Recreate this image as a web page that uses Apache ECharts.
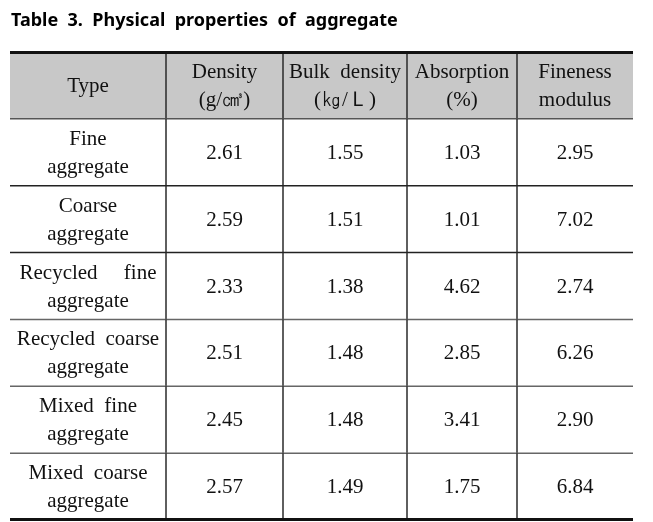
<!DOCTYPE html>
<html>
<head>
<meta charset="utf-8">
<script src="https://cdn.jsdelivr.net/npm/echarts@6/dist/echarts.min.js"></script>
<style>html,body{margin:0;padding:0;background:#fff}#c{width:653px;height:522px}</style>
</head>
<body>
<div id="c"></div>
<script>
// ---- data ----
const titleText = 'Table  3.  Physical  properties  of  aggregate';
const headers = ['Type', 'Density\n(g/㎤)', 'Bulk  density\n(㎏/Ｌ)', 'Absorption\n(%)', 'Fineness\nmodulus'];
const types = ['Fine\naggregate', 'Coarse\naggregate', 'Recycled     fine\naggregate', 'Recycled  coarse\naggregate', 'Mixed  fine\naggregate', 'Mixed  coarse\naggregate'];
const density = [2.61, 2.59, 2.33, 2.51, 2.45, 2.57];
const bulkDensity = [1.55, 1.51, 1.38, 1.48, 1.48, 1.49];
const absorption = [1.03, 1.01, 4.62, 2.85, 3.41, 1.75];
const finenessModulus = [2.95, 7.02, 2.74, 6.26, 2.90, 6.84];

// ---- layout (column boundaries in table units) ----
const colEdges = [0, 156, 273, 397, 507, 623];

const rowsLabels = ['header'].concat(types);
const valueCols = [density, bulkDensity, absorption, finenessModulus];
const cells = [];
for (let r = 0; r < rowsLabels.length; r++) {
  for (let c = 0; c < 5; c++) {
    let txt;
    if (r === 0) txt = headers[c];
    else if (c === 0) txt = types[r - 1];
    else txt = valueCols[c - 1][r - 1].toFixed(2);
    cells.push({ value: [colEdges[c], r, c], txt: txt });
  }
}

const chart = echarts.init(document.getElementById('c'), null, { renderer: 'canvas' });
const nRows = rowsLabels.length;

chart.setOption({
  animation: false,
  title: {
    text: titleText, left: 6, top: 7,
    textStyle: { fontFamily: 'Noto Sans', fontWeight: 'bold', fontSize: 18, color: '#000' }
  },
  grid: { left: 10, right: 20, top: 52, bottom: 2 },
  xAxis: { type: 'value', min: 0, max: colEdges[colEdges.length - 1], show: false },
  yAxis: { type: 'category', data: rowsLabels, inverse: true, show: false },
  series: [{
    type: 'custom',
    coordinateSystem: 'cartesian2d',
    data: cells,
    encode: { x: 0, y: 1 },
    renderItem: function (params, api) {
      const item = cells[params.dataIndex];
      const c = api.value(2);
      const r = api.value(1);
      const pA = api.coord([colEdges[c], r]);
      const pB = api.coord([colEdges[c + 1], r]);
      const h = api.size([0, 1])[1];
      const x0 = pA[0], x1 = pB[0];
      const y0 = pA[1] - h / 2, y1 = pA[1] + h / 2;
      const children = [{
        type: 'rect',
        shape: { x: x0, y: y0, width: x1 - x0, height: h },
        style: { fill: r === 0 ? '#c8c8c8' : '#ffffff' },
        z2: 0
      }];
      if (c < 4) {
        children.push({ type: 'line', shape: { x1: x1, y1: y0, x2: x1, y2: y1 },
          style: { stroke: '#2a2a2a', lineWidth: 1.5 }, z2: 2 });
      }
      if (r === 0) {
        children.push({ type: 'line', shape: { x1: x0, y1: y0 + 0.5, x2: x1, y2: y0 + 0.5 },
          style: { stroke: '#111', lineWidth: 3 }, z2: 3 });
      }
      if (r === nRows - 1) {
        children.push({ type: 'line', shape: { x1: x0, y1: y1 - 0.5, x2: x1, y2: y1 - 0.5 },
          style: { stroke: '#111', lineWidth: 3 }, z2: 3 });
      } else {
        const col = r === 0 ? '#555' : (r <= 2 ? '#222' : '#666');
        children.push({ type: 'line', shape: { x1: x0, y1: y1, x2: x1, y2: y1 },
          style: { stroke: col, lineWidth: 1.5 }, z2: 2 });
      }
      children.push({
        type: 'text',
        style: {
          text: item.txt, x: (x0 + x1) / 2, y: (y0 + y1) / 2 + 1,
          align: 'center', verticalAlign: 'middle',
          fontFamily: 'Liberation Serif', fontSize: 21, lineHeight: 28, fill: '#111'
        },
        z2: 4
      });
      return { type: 'group', children: children };
    }
  }]
});
</script>
</body>
</html>
